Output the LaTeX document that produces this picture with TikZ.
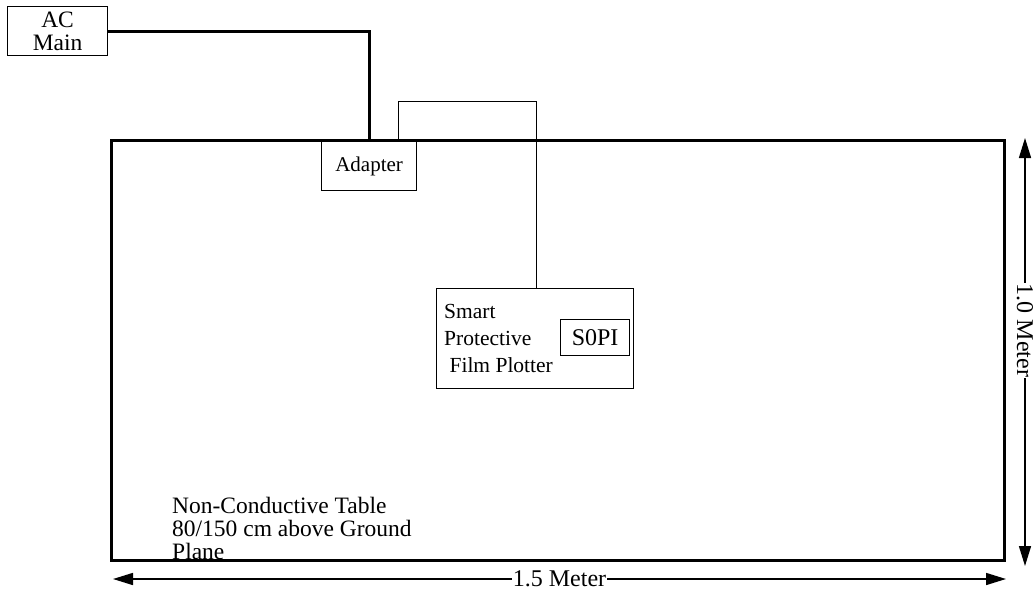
\documentclass[tikz,border=0pt]{standalone}
\usepackage{fontspec}
\setmainfont{Liberation Serif}
\usetikzlibrary{arrows.meta}
\begin{document}
\begin{tikzpicture}[x=1pt,y=-1pt,
  box/.style={draw,line width=1.2pt,inner sep=0pt},
  lbl/.style={font=\fontsize{21.5}{27}\selectfont,inner sep=0pt},
  thick line/.style={line width=3pt},
  thin line/.style={line width=0.8pt},
  dim/.style={line width=1.5pt,{Triangle[length=20pt,width=12pt]}-{Triangle[length=20pt,width=12pt]}}]
\useasboundingbox (0,0) rectangle (1034,592);
% table
\draw[thick line] (111,140) rectangle (1004,560);
% AC main
\node[box,minimum width=100pt,minimum height=49pt,anchor=north west,align=center,font=\fontsize{23.5}{23}\selectfont] (ac) at (7,6) {AC\\Main};
% adapter
\node[box,minimum width=95pt,minimum height=49pt,anchor=north west,font=\fontsize{21}{24}\selectfont,fill=white] (ad) at (321,141) {Adapter};
\coordinate (acin) at (369,140);
\draw[thick line] (ac.east |- 0,31) -- (369,31) -- (acin);
% plotter
\node[box,minimum width=197pt,minimum height=100pt,anchor=north west] (pl) at (436,288) {};
\node[lbl,anchor=west,align=left] (pltxt) at (444,338) {Smart\\Protective\\\ Film Plotter};
\node[box,minimum width=69pt,minimum height=36pt,anchor=north west,font=\fontsize{24}{24}\selectfont] (sopi) at (560,319) {S0PI};
\draw[thin line] (398,141) -- (398,101) -- (536,101) -- (536,288);
% table text
\node[anchor=north west,align=left,inner sep=0pt,font=\fontsize{23.5}{23}\selectfont] (tt) at (172,497) {Non-Conductive Table\\80/150 cm above Ground\\Plane};
% dimensions
\coordinate (hl) at (113,579);
\coordinate (hr) at (1006,579);
\draw[dim] (hl) -- (hr) node[midway,fill=white,inner sep=1pt,font=\fontsize{24}{24}\selectfont] (hlab) {1.5 Meter};
\coordinate (vt) at (1025,138);
\coordinate (vb) at (1025,566);
\draw[dim] (vt) -- (vb) node[pos=0.45,fill=white,inner sep=1pt,rotate=-90,font=\fontsize{24}{24}\selectfont] (vlab) {1.0 Meter};
\end{tikzpicture}
\end{document}
